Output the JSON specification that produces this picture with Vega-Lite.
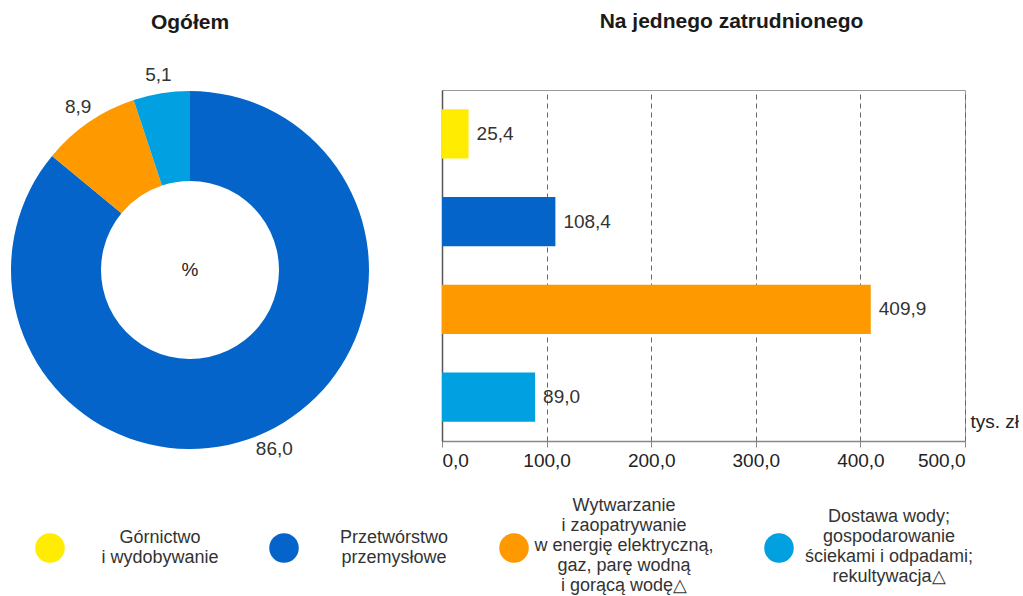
{
  "$schema": "https://vega.github.io/schema/vega-lite/v6.json",
  "padding": {"left": 0, "top": 10, "right": 0, "bottom": 0},
  "autosize": {"type": "pad"},
  "bounds": "flush",
  "spacing": 62,
  "config": {
    "locale": {"number": {"decimal": ",", "thousands": " ", "grouping": [3], "currency": ["", " zł"]}},
    "font": "Liberation Sans",
    "title": {"fontSize": 21, "fontWeight": "bold", "color": "#1a1a1a", "font": "Liberation Sans", "frame": "group"}
  },
  "datasets": {
    "d": [
      {"kategoria": "Górnictwo\ni wydobywanie", "n": 1, "udzial": 0.0, "na_zatr": 25.4},
      {"kategoria": "Przetwórstwo\nprzemysłowe", "n": 2, "udzial": 86.0, "na_zatr": 108.4},
      {"kategoria": "Wytwarzanie\ni zaopatrywanie\nw energię elektryczną,\ngaz, parę wodną\ni gorącą wodę△", "n": 3, "udzial": 8.9, "na_zatr": 409.9},
      {"kategoria": "Dostawa wody;\ngospodarowanie\nściekami i odpadami;\nrekultywacja△", "n": 4, "udzial": 5.1, "na_zatr": 89.0}
    ]
  },
  "data": {"name": "d"},
  "resolve": {"scale": {"color": "shared"}},
  "hconcat": [
    {
      "title": {"text": "Ogółem", "offset": 33},
      "width": 380,
      "height": 360,
      "view": {"stroke": null},
      "layer": [
        {
          "mark": {"type": "arc", "innerRadius": 89, "outerRadius": 179},
          "encoding": {
            "theta": {"field": "udzial", "type": "quantitative", "stack": true},
            "order": {"field": "n", "type": "quantitative"},
            "color": {
              "field": "kategoria",
              "type": "nominal",
              "scale": {
                "domain": [
                  "Górnictwo\ni wydobywanie",
                  "Przetwórstwo\nprzemysłowe",
                  "Wytwarzanie\ni zaopatrywanie\nw energię elektryczną,\ngaz, parę wodną\ni gorącą wodę△",
                  "Dostawa wody;\ngospodarowanie\nściekami i odpadami;\nrekultywacja△"
                ],
                "range": ["#FFEC00", "#0564C9", "#FF9900", "#00A0E1"]
              },
              "legend": {
                "orient": "none",
                "legendX": 35,
                "legendY": 402,
                "direction": "horizontal",
                "columns": 4,
                "title": null,
                "symbolType": "circle",
                "symbolSize": 870,
                "symbolStrokeWidth": 0,
                "symbolOpacity": 1,
                "clipHeight": 112,
                "labelExpr": "split(datum.label, '\\n')",
                "labelFontSize": 18,
                "labelFont": "Liberation Sans",
                "labelLineHeight": 21,
                "labelColor": "#333333",
                "labelAlign": "center",
                "labelLimit": 400,
                "labelOffset": 95,
                "columnPadding": 50,
                "encode": {
                  "labels": {
                    "update": {
                      "dy": {"signal": "-(length(split(datum.value, '\\n')) - 1) * 10.5"}
                    }
                  }
                }
              }
            }
          }
        },
        {
          "transform": [{"filter": "datum.udzial > 0"}],
          "mark": {"type": "text", "radius": 198, "fontSize": 19, "color": "#333333"},
          "encoding": {
            "theta": {"field": "udzial", "type": "quantitative", "stack": true},
            "order": {"field": "n", "type": "quantitative"},
            "text": {"field": "udzial", "type": "quantitative", "format": ".1f"}
          }
        },
        {
          "data": {"values": [{"t": "%"}]},
          "mark": {"type": "text", "fontSize": 19, "color": "#222222"},
          "encoding": {"text": {"field": "t"}}
        }
      ]
    },
    {
      "title": {"text": "Na jednego zatrudnionego", "dx": 28, "offset": 58},
      "width": 523,
      "height": 351,
      "view": {"stroke": "#9a9a9a"},
      "encoding": {
        "y": {
          "field": "kategoria",
          "type": "nominal",
          "sort": {"field": "n"},
          "scale": {"paddingInner": 0.44, "paddingOuter": 0.22},
          "axis": {"labels": false, "ticks": false, "title": null, "domainColor": "#555555", "domainWidth": 1.5}
        },
        "x": {
          "field": "na_zatr",
          "type": "quantitative",
          "scale": {"domain": [0, 500]},
          "axis": {
            "values": [0, 100, 200, 300, 400, 500],
            "format": ".1f",
            "grid": true,
            "gridDash": [5, 4],
            "gridColor": "#666666",
            "tickColor": "#888888",
            "tickSize": 6,
            "domainColor": "#888888",
            "domainWidth": 1.5,
            "labelFontSize": 19,
            "labelColor": "#222222",
            "labelPadding": 4,
            "title": "tys. zł",
            "titleX": 528,
            "titleY": -14,
            "titleAlign": "left",
            "titleBaseline": "alphabetic",
            "titleFontWeight": "normal",
            "titleFontSize": 19,
            "titleColor": "#222222"
          }
        }
      },
      "layer": [
        {
          "mark": {"type": "bar"},
          "encoding": {"color": {"field": "kategoria", "type": "nominal", "legend": null}}
        },
        {
          "mark": {"type": "text", "align": "left", "dx": 8, "fontSize": 19, "color": "#333333"},
          "encoding": {"text": {"field": "na_zatr", "type": "quantitative", "format": ".1f"}}
        }
      ]
    }
  ]
}
